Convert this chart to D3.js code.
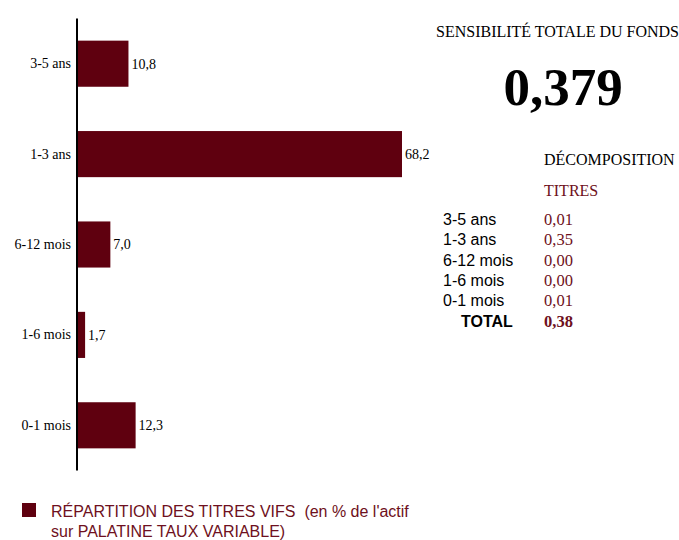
<!DOCTYPE html>
<html>
<head>
<meta charset="utf-8">
<script src="https://cdn.jsdelivr.net/npm/d3@7.9.0/dist/d3.min.js"></script>
<style>
  body { margin: 0; background: #fff; }
  svg { display: block; }
</style>
</head>
<body>
<div id="chart"></div>
<script>
const categories = ["3-5 ans", "1-3 ans", "6-12 mois", "1-6 mois", "0-1 mois"];
const values = [10.8, 68.2, 7.0, 1.7, 12.3];
const sensLabels = ["3-5 ans", "1-3 ans", "6-12 mois", "1-6 mois", "0-1 mois"];
const sensValues = ["0,01", "0,35", "0,00", "0,00", "0,01"];
const sensTotal = "0,38";
const fundTotal = "0,379";

const width = 679, height = 540;
const barColor = "#5f000f";
const redText = "#6e1020";
const serif = "'Liberation Serif', 'Times New Roman', serif";
const sans = "'Liberation Sans', Arial, sans-serif";
const fmt = v => v.toFixed(1).replace(".", ",");

const svg = d3.select("#chart").append("svg")
    .attr("width", width)
    .attr("height", height);

const x0 = 77;
const x = d3.scaleLinear()
    .domain([0, 68.2])
    .range([x0, 402]);

const y = d3.scaleBand()
    .domain(categories)
    .range([18.5, 470.5])
    .paddingInner(0.49)
    .paddingOuter(0.245);

svg.selectAll(".bar")
    .data(values)
    .enter()
    .append("rect")
    .attr("class", "bar")
    .attr("x", x(0))
    .attr("y", (d, i) => y(categories[i]))
    .attr("width", d => x(d) - x(0))
    .attr("height", y.bandwidth())
    .attr("fill", barColor);

// axis line with category labels
const axis = svg.append("g")
    .attr("transform", `translate(${x0},0)`)
    .call(d3.axisLeft(y).tickSize(0).tickPadding(6));
axis.select(".domain")
    .attr("d", `M0,18.5V470.5`)
    .attr("stroke", "#000")
    .attr("stroke-width", 2);
axis.selectAll("text")
    .style("font-family", serif)
    .style("font-size", "14px")
    .attr("fill", "#000");

svg.selectAll(".val")
    .data(values)
    .enter()
    .append("text")
    .attr("x", d => x(d) + 3)
    .attr("y", (d, i) => y(categories[i]) + y.bandwidth() / 2)
    .attr("dy", "0.35em")
    .style("font-family", serif)
    .style("font-size", "14px")
    .attr("fill", "#000")
    .text(d => fmt(d));

// right panel
svg.append("text")
    .attr("x", 436).attr("y", 37)
    .style("font-family", serif).style("font-size", "16px")
    .text("SENSIBILITÉ TOTALE DU FONDS");

svg.append("text")
    .attr("x", 563).attr("y", 105)
    .attr("text-anchor", "middle")
    .style("font-family", serif).style("font-size", "53px").style("font-weight", "bold")
    .text(fundTotal);

svg.append("text")
    .attr("x", 544).attr("y", 165)
    .style("font-family", serif).style("font-size", "16px")
    .text("DÉCOMPOSITION");

svg.append("text")
    .attr("x", 544).attr("y", 196)
    .style("font-family", serif).style("font-size", "16px")
    .attr("fill", redText)
    .text("TITRES");

const rowY = d3.scalePoint()
    .domain(sensLabels)
    .range([225, 306]);

svg.selectAll(".slab")
    .data(sensLabels)
    .enter()
    .append("text")
    .attr("x", 443)
    .attr("y", d => rowY(d))
    .style("font-family", sans).style("font-size", "16px")
    .text(d => d);

svg.selectAll(".sval")
    .data(sensValues)
    .enter()
    .append("text")
    .attr("x", 544)
    .attr("y", (d, i) => rowY(sensLabels[i]))
    .style("font-family", serif).style("font-size", "16.5px")
    .attr("fill", redText)
    .text(d => d);

svg.append("text")
    .attr("x", 461).attr("y", 327)
    .style("font-family", sans).style("font-size", "16px").style("font-weight", "bold")
    .text("TOTAL");
svg.append("text")
    .attr("x", 544).attr("y", 327)
    .style("font-family", serif).style("font-size", "16.5px").style("font-weight", "bold")
    .attr("fill", redText)
    .text(sensTotal);

// legend
svg.append("rect")
    .attr("x", 22).attr("y", 503)
    .attr("width", 14).attr("height", 14)
    .attr("fill", barColor);
const leg = svg.append("text")
    .style("font-family", sans).style("font-size", "16px")
    .style("white-space", "pre")
    .attr("fill", redText);
leg.append("tspan").attr("x", 51).attr("y", 517)
    .text("RÉPARTITION DES TITRES VIFS  (en % de l'actif");
leg.append("tspan").attr("x", 51).attr("y", 537)
    .text("sur PALATINE TAUX VARIABLE)");
</script>
</body>
</html>
